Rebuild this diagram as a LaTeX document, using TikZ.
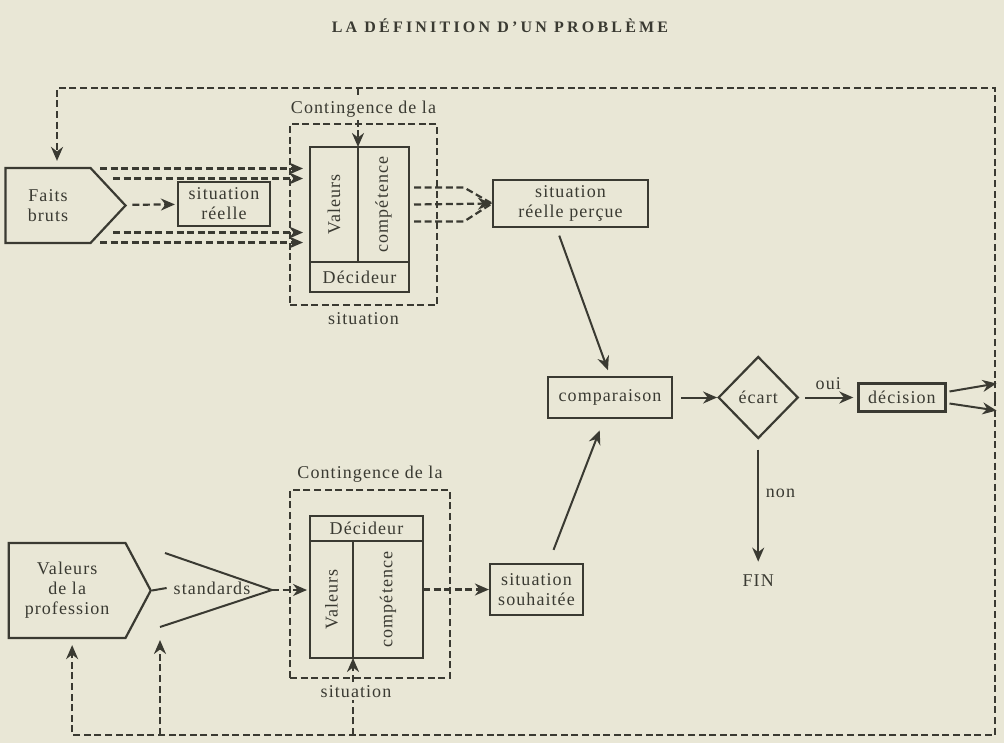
\documentclass[tikz,border=0pt]{standalone}
\usepackage{fontspec}
\usepackage{graphicx}
\newfontfamily\diag[LetterSpace=6]{Liberation Serif}
\newfontfamily\titlefont[LetterSpace=20]{Liberation Serif}
\newcommand{\diagsize}{\fontsize{9}{10}\selectfont}
\usetikzlibrary{arrows.meta, positioning, shapes.geometric, shapes.symbols}
\definecolor{paper}{RGB}{233,231,214}
\definecolor{ink}{RGB}{58,58,50}

\begin{document}
\begin{tikzpicture}[x=0.5pt, y=-0.5pt, >={Stealth[length=7pt, width=6pt]}, font=\diag\diagsize, text=ink]
    \tikzstyle{box}=[rectangle, draw=ink, line width=1.1pt, align=center, inner sep=1pt]
    \tikzstyle{cell}=[rectangle, draw=ink, line width=1.1pt, inner sep=1pt, outer sep=0pt]
    \tikzstyle{cframe}=[rectangle, draw=ink, line width=1.1pt, dash pattern=on 3.5pt off 1.8pt]
    \tikzstyle{tag}=[signal, signal to=east, draw=ink, line width=1.1pt, align=center, anchor=east, inner sep=1pt]
    \tikzstyle{dline}=[draw=ink, line width=1.1pt, dash pattern=on 3.5pt off 1.8pt]
    \tikzstyle{sline}=[draw=ink, line width=1pt]
    \tikzstyle{lbl}=[fill=paper, inner sep=1pt]

    \fill[paper] (0,0) rectangle (1004,743);
    \useasboundingbox (0,0) rectangle (1004,743);

    \node[font=\titlefont\bfseries\fontsize{8}{9}\selectfont] (title) at (500,26) {LA DÉFINITION D’UN PROBLÈME};

    % situation reelle
    \node[tag, signal pointer angle=94, minimum width=60pt, minimum height=37.5pt] (faits) at (127,205.5) {Faits\\bruts};
    \node[box, minimum width=46pt, minimum height=22pt] (sitr) at (224,204) {situation\\réelle};
    \node[cell, minimum width=24pt, minimum height=57.5pt] (val1) at (334,204.5) {\rotatebox{90}{Valeurs}};
    \node[cell, minimum width=25.5pt, minimum height=57.5pt, right=0pt of val1] (comp1) {\rotatebox{90}{compétence}};
    \node[cell, minimum width=49.5pt, minimum height=15pt, below=0pt of val1.south west, anchor=north west] (dec1) {Décideur};
    \node[cframe, minimum width=73.5pt, minimum height=90.5pt] (frame1) at (363.5,214.5) {};
    \node[box, minimum width=77.5pt, minimum height=23.5pt] (srp) at (570.5,203.5) {situation\\réelle perçue};

    % comparaison
    \node[box, minimum width=62pt, minimum height=20.5pt] (comp) at (610,397.5) {comparaison};
    \node[diamond, draw=ink, line width=1.1pt, minimum width=40pt, minimum height=41pt, inner sep=0pt, right=22pt of comp] (ecart) {écart};
    \node[box, minimum width=43.5pt, minimum height=14pt, right=29pt of ecart] (dec) {décision};
    \node[below=64pt of ecart] (fin) {FIN};

    % situation souhaitee
    \node[tag, signal pointer angle=124, minimum width=71pt, minimum height=47.5pt] (prof) at (152,590.5) {Valeurs\\de la\\profession};
    \node (std) at (212,588) {standards};
    \coordinate (stdtip) at (272,590);
    \coordinate (stdhi) at (165,553);
    \coordinate (stdlo) at (160,627);
    \node[cell, minimum width=56.5pt, minimum height=12.5pt] (dec2) at (366.5,528.5) {Décideur};
    \node[cell, minimum width=21.5pt, minimum height=58.5pt, below=0pt of dec2.south west, anchor=north west] (val2) {\rotatebox{90}{Valeurs}};
    \node[cell, minimum width=35pt, minimum height=58.5pt, right=0pt of val2] (comp2) {\rotatebox{90}{compétence}};
    \node[cframe, minimum width=80pt, minimum height=94pt] (frame2) at (370,584) {};
    \node[box, minimum width=46.5pt, minimum height=25.5pt] (ss) at (536.5,589.5) {situation\\souhaitée};

    % boucle de retour
    \coordinate (loop) at (995,399);
    \coordinate (top) at (500,88);
    \coordinate (bot) at (500,735);
    \draw[dline, ->, shorten >=3pt] (loop) -- (loop |- top) -| ([xshift=4.5pt]faits.north);
    \draw[dline, ->] (val1.north east |- top) -- (val1.north east);
    \draw[dline, ->, shorten >=3pt] (loop) -- (loop |- bot) -| ([xshift=2.5pt]prof.south);
    \draw[dline, ->] (stdlo |- bot) -- ([yshift=-6.5pt]stdlo);
    \draw[dline, ->] (val2.south east |- bot) -- (val2.south east);
    \draw[sline, ->] ([shift={(1.5pt,3pt)}]dec.east) -- ++(47,-8);
    \draw[sline, ->] ([shift={(1.5pt,-3pt)}]dec.east) -- ++(47,7);

    % connecteurs
    \foreach \dy/\dx in {-37/-27, -27/-14, 27/-14, 37/-27}
        \draw[dline, ->] ([shift={(\dx,\dy)}]faits.east) -- ++(176-\dx,0);
    \draw[dline, ->, shorten <=3pt, shorten >=1pt] (faits) -- (sitr);
    \draw[dline] ([shift={(5,-17)}]comp1.east) -- ++(50,0) -- (srp.west);
    \draw[dline, ->] ([xshift=2.5pt]comp1.east) -- (srp.west);
    \draw[dline] ([shift={(5,17)}]comp1.east) -- ++(50,0) -- (srp.west);
    \draw[sline, ->, shorten <=4pt, shorten >=3pt] ([xshift=-7pt]srp.south) -- (comp.north);
    \draw[sline, ->, shorten <=7pt, shorten >=6pt] ([xshift=6pt]ss.north) -- ([xshift=-3pt]comp.south);
    \draw[sline, ->, shorten <=4pt] (comp) -- (ecart);
    \draw[sline, ->, shorten <=3pt, shorten >=2pt] (ecart) -- node[above]{oui} (dec);
    \draw[sline, ->, shorten <=5pt, shorten >=3pt] (ecart) -- node[right, pos=0.42]{non} (fin);
    \draw[sline] (stdhi) -- (stdtip) -- (stdlo);
    \draw[sline] (prof.east) -- (std.west);
    \draw[dline, ->, shorten >=1.5pt] (stdtip) -- (stdtip -| val2.west);
    \draw[dline, ->] (ss.west -| comp2.east) -- (ss.west);

    % etiquettes des cadres
    \node[lbl, above=1.5pt of frame1] (ctop1) {Contingence de la};
    \node[lbl, below=2pt of frame1] (cbot1) {situation};
    \node[lbl, above=2pt of frame2] (ctop2) {Contingence de la};
    \node[lbl, below=2pt of frame2, xshift=-7pt] (cbot2) {situation};
\end{tikzpicture}
\end{document}
